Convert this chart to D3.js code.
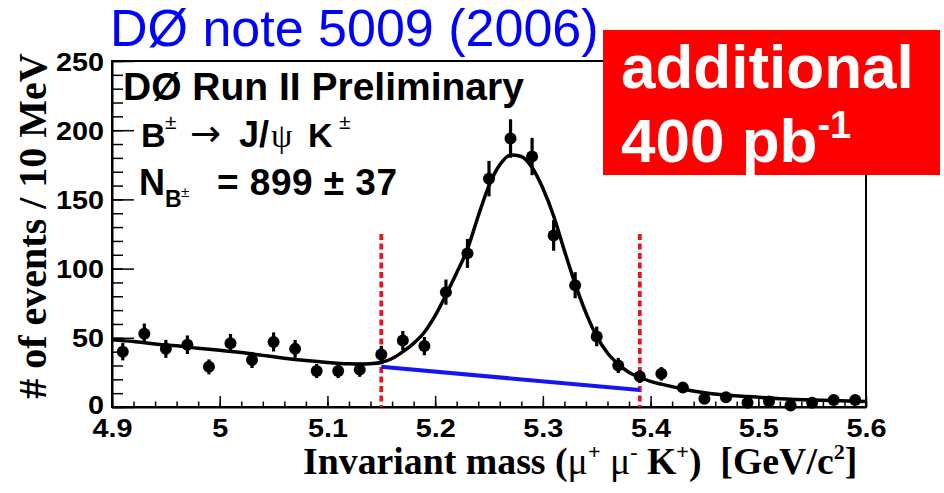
<!DOCTYPE html>
<html>
<head>
<meta charset="utf-8">
<script src="https://cdn.jsdelivr.net/npm/d3@7"></script>
<style>
  body { margin: 0; background: #fff; }
  svg { display: block; }
</style>
</head>
<body>
<svg id="chart" width="944" height="493"></svg>
<script>
// ---- data ----
const massPts = [4.91,4.93,4.95,4.97,4.99,5.01,5.03,5.05,5.07,5.09,5.11,5.13,5.15,5.17,5.19,5.21,5.23,5.25,5.27,5.29,5.31,5.33,5.35,5.37,5.39,5.41,5.43,5.45,5.47,5.49,5.51,5.53,5.55,5.57,5.59];
const counts  = [40,53,42,45,29,46,34,47,42,26,26,27,38,48,44,83,111,165,194,181,124,88,51,30,22,24,14,6,7,3,4,1,3,5,5];
const errors  = [6.3,7.3,6.5,6.7,5.4,6.8,5.8,6.9,6.5,5.1,5.1,5.2,6.2,6.9,6.6,9.1,10.5,12.8,13.9,13.5,11.1,9.4,7.1,5.5,4.7,4.9,3.7,2.4,2.6,1.7,2,1,1.7,2.2,2.2];

const fitMass = [4.90,4.92,4.94,4.96,4.98,5.00,5.02,5.04,5.06,5.08,5.10,5.12,5.13,5.14,5.15,5.16,5.17,5.18,5.19,5.20,5.21,5.22,5.23,5.24,5.25,5.26,5.27,5.28,5.29,5.30,5.31,5.32,5.33,5.34,5.35,5.36,5.37,5.38,5.39,5.40,5.41,5.43,5.45,5.47,5.49,5.52,5.56,5.60];
const fitVal  = [48.5,47.3,45.5,44.2,42.5,41,39.3,37.3,35.3,33.6,32.2,31.2,31,31.3,32.2,35,40,46,54,66,81,97,114,138,160,175,182,181,173,158,138,113,89,68,51,39,31,25,21.5,18.5,16.5,13,10.3,8.7,7.5,6,4.8,3.9];

const bgMass = [5.15, 5.39];
const bgVal  = [29, 12.3];

const cutMass = [5.15, 5.39];
const cutTop  = 125;

const xMajor = [4.9,5.0,5.1,5.2,5.3,5.4,5.5,5.6];
const xMajorLabels = ["4.9","5","5.1","5.2","5.3","5.4","5.5","5.6"];
const yMajor = [0,50,100,150,200,250];

// ---- layout ----
const svg = d3.select("#chart");
const L = 112, R = 866, T = 61, B = 407;
const x = d3.scaleLinear().domain([4.9, 5.6]).range([L, R]);
const y = d3.scaleLinear().domain([0, 250]).range([B, T]);

svg.append("rect").attr("width", 944).attr("height", 493).attr("fill", "#fff");

// frame
svg.append("rect").attr("x", L).attr("y", T).attr("width", R - L).attr("height", B - T)
  .attr("fill", "none").attr("stroke", "#000").attr("stroke-width", 2);

const tickFont = "'Liberation Sans', Arial, Helvetica, sans-serif";
const SX = 1.13;

// x axis minor ticks
const xMinor = d3.range(4.9, 5.6001, 0.02);
const gxMinor = svg.append("g").attr("transform", `translate(0,${B})`)
  .call(d3.axisBottom(x).tickValues(xMinor).tickSizeInner(-5.5).tickSizeOuter(0).tickFormat(""));
gxMinor.select(".domain").remove();
gxMinor.selectAll("line").attr("stroke", "#000").attr("stroke-width", 1.5);

// x axis major
const gx = svg.append("g").attr("transform", `translate(0,${B})`)
  .call(d3.axisBottom(x).tickValues(xMajor).tickSizeInner(-11).tickSizeOuter(0)
    .tickFormat((d, i) => xMajorLabels[i]));
gx.select(".domain").attr("stroke", "#000").attr("stroke-width", 2);
gx.selectAll("line").attr("stroke", "#000").attr("stroke-width", 1.5);
gx.selectAll("text")
  .attr("y", 30).attr("dy", null)
  .attr("transform", `scale(${SX},1)`)
  .attr("font-family", tickFont).attr("font-weight", "bold").attr("font-size", 25.5)
  .attr("fill", "#000");

// y axis minor ticks
const yMinor = d3.range(0, 251, 10);
const gyMinor = svg.append("g").attr("transform", `translate(${L},0)`)
  .call(d3.axisLeft(y).tickValues(yMinor).tickSizeInner(-11).tickSizeOuter(0).tickFormat(""));
gyMinor.select(".domain").remove();
gyMinor.selectAll("line").attr("stroke", "#000").attr("stroke-width", 1.5);

// y axis major
const gy = svg.append("g").attr("transform", `translate(${L},0)`)
  .call(d3.axisLeft(y).tickValues(yMajor).tickSizeInner(-22).tickSizeOuter(0).tickFormat(d3.format("d")));
gy.select(".domain").attr("stroke", "#000").attr("stroke-width", 2);
gy.selectAll("line").attr("stroke", "#000").attr("stroke-width", 1.5);
gy.selectAll("text")
  .attr("x", -8 / SX).attr("dy", d => d === 0 ? 6 : 9)
  .attr("transform", `scale(${SX},1)`)
  .attr("font-family", tickFont).attr("font-weight", "bold").attr("font-size", 25.5)
  .attr("fill", "#000");

// axis titles
svg.append("text")
  .attr("transform", `translate(46,${(55 + 397) / 2}) rotate(-90)`)
  .attr("text-anchor", "middle")
  .attr("font-family", "'Liberation Serif', 'Times New Roman', serif").attr("font-weight", "bold")
  .attr("font-size", 40).attr("fill", "#000")
  .text("# of events / 10 MeV");

const xt = svg.append("text")
  .attr("x", 303).attr("y", 474)
  .attr("font-family", "'Liberation Serif', 'Times New Roman', serif").attr("font-weight", "bold")
  .attr("font-size", 37.8).attr("fill", "#000");
xt.append("tspan").text("Invariant mass (");
xt.append("tspan").attr("font-weight", "normal").text("\u03bc");
xt.append("tspan").attr("font-size", 22).attr("dy", -15).text("+");
xt.append("tspan").attr("dy", 15).text(" ");
xt.append("tspan").attr("font-weight", "normal").text("\u03bc");
xt.append("tspan").attr("font-size", 22).attr("dy", -15).text("-");
xt.append("tspan").attr("dy", 15).text(" K");
xt.append("tspan").attr("font-size", 22).attr("dy", -15).text("+");
xt.append("tspan").attr("dy", 15).text(")\u00a0\u00a0[GeV/c");
xt.append("tspan").attr("font-size", 22).attr("dy", -15).text("2");
xt.append("tspan").attr("dy", 15).text("]");

// red cut lines
svg.append("g").selectAll("line").data(cutMass).join("line")
  .attr("x1", d => x(d)).attr("x2", d => x(d))
  .attr("y1", y(cutTop)).attr("y2", y(0))
  .attr("stroke", "#e8161c").attr("stroke-width", 3.8).attr("stroke-dasharray", "6,3.5");

// background line (blue)
svg.append("path")
  .datum(bgMass.map((m, i) => [m, bgVal[i]]))
  .attr("d", d3.line().x(d => x(d[0])).y(d => y(d[1])))
  .attr("fill", "none").attr("stroke", "#1515f0").attr("stroke-width", 4);

// fit curve
svg.append("path")
  .datum(fitMass.map((m, i) => [m, fitVal[i]]))
  .attr("d", d3.line().x(d => x(d[0])).y(d => y(d[1])).curve(d3.curveMonotoneX))
  .attr("fill", "none").attr("stroke", "#000").attr("stroke-width", 3.5);

// data points
const pts = massPts.map((m, i) => ({ m, v: counts[i], e: errors[i] }));
svg.append("g").selectAll("line").data(pts).join("line")
  .attr("x1", d => x(d.m)).attr("x2", d => x(d.m))
  .attr("y1", d => y(Math.max(0, d.v - d.e))).attr("y2", d => y(d.v + d.e))
  .attr("stroke", "#000").attr("stroke-width", 3.2);
svg.append("g").selectAll("circle").data(pts).join("circle")
  .attr("cx", d => x(d.m)).attr("cy", d => y(d.v)).attr("r", 6)
  .attr("fill", "#000");

// statistics box text
const sans = "'Liberation Sans', Arial, Helvetica, sans-serif";
svg.append("text").attr("x", 123).attr("y", 100)
  .attr("font-family", sans).attr("font-weight", "bold").attr("font-size", 39).attr("fill", "#000")
  .text("D\u00d8 Run II Preliminary");

const t2 = svg.append("g").attr("font-family", sans).attr("font-weight", "bold").attr("fill", "#000");
t2.append("text").attr("x", 141).attr("y", 147).attr("font-size", 34).text("B");
t2.append("text").attr("x", 165).attr("y", 129).attr("font-size", 21).attr("font-weight", "normal").text("\u00b1");
t2.append("text").attr("x", 190).attr("y", 146).attr("font-size", 37).attr("font-weight", "normal").attr("font-family", "'DejaVu Sans', sans-serif").text("\u2192");
t2.append("text").attr("x", 239).attr("y", 147).attr("font-size", 36).text("J/");
t2.append("text").attr("x", 271).attr("y", 147).attr("font-size", 34).attr("font-weight", "normal").attr("font-family", "'Liberation Serif', serif").text("\u03c8");
t2.append("text").attr("x", 308).attr("y", 147).attr("font-size", 34).text("K");
t2.append("text").attr("x", 339).attr("y", 129).attr("font-size", 21).attr("font-weight", "normal").text("\u00b1");

const t3 = svg.append("g").attr("font-family", sans).attr("font-weight", "bold").attr("fill", "#000");
t3.append("text").attr("x", 139).attr("y", 195).attr("font-size", 36).text("N");
t3.append("text").attr("x", 165).attr("y", 207).attr("font-size", 23).text("B");
t3.append("text").attr("x", 181).attr("y", 197).attr("font-size", 15).attr("font-weight", "normal").text("\u00b1");
t3.append("text").attr("x", 217).attr("y", 195).attr("font-size", 37).attr("textLength", 180)
  .text("= 899 \u00b1 37");

// note title (blue)
svg.append("text").attr("x", 110).attr("y", 46)
  .attr("font-family", sans).attr("font-size", 52).attr("fill", "#0000ff")
  .text("D\u00d8 note 5009 (2006)");

// red box
svg.append("rect").attr("x", 603).attr("y", 30).attr("width", 337).attr("height", 145).attr("fill", "#ff0000");
svg.append("text").attr("x", 621).attr("y", 88)
  .attr("font-family", sans).attr("font-weight", "bold").attr("font-size", 62).attr("fill", "#fff")
  .text("additional");
const rb = svg.append("text").attr("x", 621).attr("y", 162)
  .attr("font-family", sans).attr("font-weight", "bold").attr("font-size", 62).attr("fill", "#fff");
rb.append("tspan").text("400 pb");
rb.append("tspan").attr("font-size", 38).attr("dy", -24).text("-1");
</script>
</body>
</html>
